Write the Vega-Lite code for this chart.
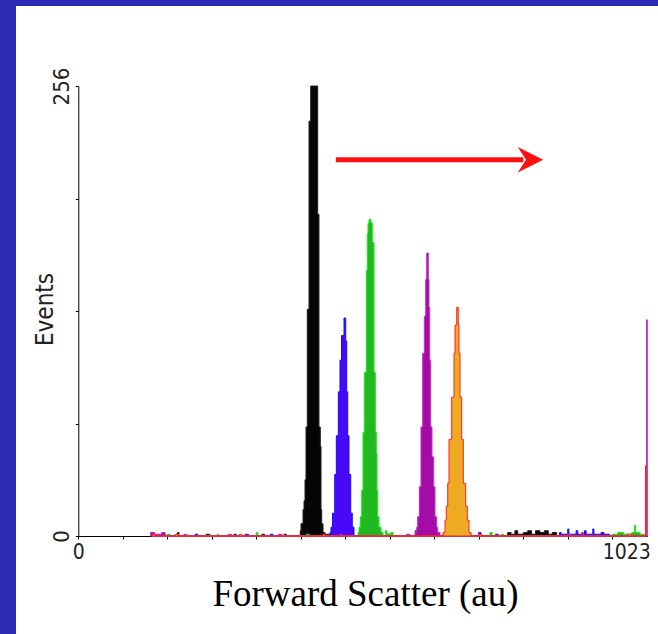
{
  "$schema": "https://vega.github.io/schema/vega-lite/v6.json",
  "width": 642,
  "height": 628,
  "autosize": {"type": "none"},
  "padding": {"left": 16, "top": 6, "right": 0, "bottom": 0},
  "background": "#2b2bb6",
  "config": {"view": {"fill": "#ffffff", "stroke": null}},
  "datasets": {
    "hist": [
      {"s":"black","x":135,"y":1},{"s":"black","x":140,"y":0},{"s":"black","x":178,"y":2},{"s":"black","x":181,"y":0},{"s":"black","x":230,"y":1},{"s":"black","x":236,"y":0},{"s":"black","x":280,"y":1},{"s":"black","x":284,"y":0},{"s":"black","x":330,"y":1},{"s":"black","x":335,"y":0},{"s":"black","x":370,"y":1},{"s":"black","x":374,"y":0},
      {"s":"black","x":399,"y":3},{"s":"black","x":400.4,"y":7},{"s":"black","x":404,"y":15},{"s":"black","x":405.8,"y":20},{"s":"black","x":407.6,"y":32},{"s":"black","x":409.4,"y":62},{"s":"black","x":411.7,"y":129},{"s":"black","x":414.8,"y":236},{"s":"black","x":417.8,"y":256},{"s":"black","x":430.4,"y":183},{"s":"black","x":432.7,"y":62},{"s":"black","x":435.1,"y":51},{"s":"black","x":436.4,"y":15},{"s":"black","x":437.6,"y":7},{"s":"black","x":440,"y":2},{"s":"black","x":443.6,"y":1},{"s":"black","x":452,"y":0},
      {"s":"black","x":606,"y":3},{"s":"black","x":608,"y":1},{"s":"black","x":612,"y":4},{"s":"black","x":614,"y":1},{"s":"black","x":620,"y":2},{"s":"black","x":624,"y":0},{"s":"black","x":632,"y":3},{"s":"black","x":634,"y":1},{"s":"black","x":640,"y":2},{"s":"black","x":645,"y":0},
      {"s":"black","x":772,"y":2},{"s":"black","x":778,"y":1},{"s":"black","x":785,"y":3},{"s":"black","x":790,"y":1},{"s":"black","x":800,"y":2},{"s":"black","x":808,"y":3},{"s":"black","x":815,"y":1},{"s":"black","x":822,"y":3},{"s":"black","x":830,"y":2},{"s":"black","x":838,"y":3},{"s":"black","x":845,"y":1},{"s":"black","x":852,"y":2},{"s":"black","x":860,"y":0},

      {"s":"blue","x":150,"y":1},{"s":"blue","x":156,"y":0},{"s":"blue","x":210,"y":1},{"s":"blue","x":215,"y":0},{"s":"blue","x":300,"y":1},{"s":"blue","x":306,"y":0},{"s":"blue","x":345,"y":1},{"s":"blue","x":350,"y":0},
      {"s":"blue","x":452.5,"y":2},{"s":"blue","x":454.3,"y":5},{"s":"blue","x":457,"y":13},{"s":"blue","x":461,"y":35},{"s":"blue","x":463.9,"y":57},{"s":"blue","x":467.5,"y":82},{"s":"blue","x":470.5,"y":100},{"s":"blue","x":473.2,"y":114},{"s":"blue","x":477.7,"y":124},{"s":"blue","x":480.8,"y":111},{"s":"blue","x":482.6,"y":82},{"s":"blue","x":484.4,"y":57},{"s":"blue","x":486.7,"y":35},{"s":"blue","x":489.8,"y":13},{"s":"blue","x":492.6,"y":5},{"s":"blue","x":495.7,"y":0},
      {"s":"blue","x":555,"y":1},{"s":"blue","x":560,"y":0},{"s":"blue","x":700,"y":1},{"s":"blue","x":706,"y":0},{"s":"blue","x":720,"y":2},{"s":"blue","x":724,"y":0},{"s":"blue","x":750,"y":1},{"s":"blue","x":755,"y":0},{"s":"blue","x":865,"y":2},{"s":"blue","x":868,"y":1},{"s":"blue","x":880,"y":4},{"s":"blue","x":882,"y":1},{"s":"blue","x":895,"y":3},{"s":"blue","x":898,"y":1},{"s":"blue","x":910,"y":3},{"s":"blue","x":913,"y":1},{"s":"blue","x":925,"y":4},{"s":"blue","x":927,"y":1},{"s":"blue","x":940,"y":2},{"s":"blue","x":945,"y":1},{"s":"blue","x":955,"y":0},{"s":"blue","x":985,"y":1},{"s":"blue","x":990,"y":0},

      {"s":"green","x":132,"y":2},{"s":"green","x":136,"y":0},{"s":"green","x":160,"y":1},{"s":"green","x":165,"y":0},{"s":"green","x":250,"y":1},{"s":"green","x":253,"y":0},{"s":"green","x":320,"y":2},{"s":"green","x":323,"y":0},{"s":"green","x":410,"y":1},{"s":"green","x":415,"y":0},
      {"s":"green","x":502.9,"y":2},{"s":"green","x":504.7,"y":5},{"s":"green","x":507,"y":11},{"s":"green","x":509.6,"y":26},{"s":"green","x":511.9,"y":59},{"s":"green","x":514.2,"y":93},{"s":"green","x":517.8,"y":151},{"s":"green","x":519.6,"y":172},{"s":"green","x":520.9,"y":178},{"s":"green","x":522.7,"y":180},{"s":"green","x":526.3,"y":178},{"s":"green","x":528.6,"y":167},{"s":"green","x":531.7,"y":93},{"s":"green","x":534,"y":59},{"s":"green","x":535.8,"y":47},{"s":"green","x":537.1,"y":26},{"s":"green","x":538.3,"y":11},{"s":"green","x":540.7,"y":5},{"s":"green","x":544.3,"y":2},{"s":"green","x":547.9,"y":0},
      {"s":"green","x":552,"y":3},{"s":"green","x":555,"y":1},{"s":"green","x":562,"y":2},{"s":"green","x":566,"y":0},{"s":"green","x":610,"y":2},{"s":"green","x":614,"y":0},{"s":"green","x":740,"y":2},{"s":"green","x":744,"y":0},{"s":"green","x":760,"y":1},{"s":"green","x":765,"y":0},{"s":"green","x":960,"y":1},{"s":"green","x":970,"y":2},{"s":"green","x":980,"y":1},{"s":"green","x":995,"y":2},{"s":"green","x":1000,"y":6},{"s":"green","x":1002,"y":2},{"s":"green","x":1010,"y":1},{"s":"green","x":1018,"y":0},

      {"s":"purple","x":130,"y":2},{"s":"purple","x":137,"y":1},{"s":"purple","x":150,"y":2},{"s":"purple","x":156,"y":0},{"s":"purple","x":190,"y":1},{"s":"purple","x":195,"y":0},{"s":"purple","x":270,"y":1},{"s":"purple","x":276,"y":0},{"s":"purple","x":360,"y":1},{"s":"purple","x":366,"y":0},{"s":"purple","x":470,"y":1},{"s":"purple","x":474,"y":0},{"s":"purple","x":590,"y":1},{"s":"purple","x":596,"y":0},
      {"s":"purple","x":605.4,"y":2},{"s":"purple","x":608.4,"y":5},{"s":"purple","x":610.2,"y":11},{"s":"purple","x":613.1,"y":28},{"s":"purple","x":616.1,"y":62},{"s":"purple","x":619.2,"y":104},{"s":"purple","x":622.1,"y":125},{"s":"purple","x":624.6,"y":146},{"s":"purple","x":626.4,"y":161},{"s":"purple","x":629.3,"y":146},{"s":"purple","x":630.5,"y":130},{"s":"purple","x":631.8,"y":100},{"s":"purple","x":633.6,"y":62},{"s":"purple","x":635.9,"y":45},{"s":"purple","x":639,"y":28},{"s":"purple","x":641.3,"y":11},{"s":"purple","x":644.4,"y":5},{"s":"purple","x":646.2,"y":2},{"s":"purple","x":650.3,"y":0},
      {"s":"purple","x":880,"y":1},{"s":"purple","x":886,"y":0},{"s":"purple","x":905,"y":2},{"s":"purple","x":908,"y":0},{"s":"purple","x":1021.6,"y":123},{"s":"purple","x":1023,"y":123},

      {"s":"orange","x":133,"y":1},{"s":"orange","x":138,"y":0},{"s":"orange","x":175,"y":1},{"s":"orange","x":180,"y":0},{"s":"orange","x":290,"y":1},{"s":"orange","x":294,"y":0},{"s":"orange","x":440,"y":1},{"s":"orange","x":444,"y":0},
      {"s":"orange","x":655.7,"y":2},{"s":"orange","x":659.3,"y":9},{"s":"orange","x":661.6,"y":17},{"s":"orange","x":664.2,"y":30},{"s":"orange","x":666.5,"y":55},{"s":"orange","x":671.3,"y":79},{"s":"orange","x":675.5,"y":104},{"s":"orange","x":677.3,"y":120},{"s":"orange","x":680.3,"y":130},{"s":"orange","x":683.2,"y":120},{"s":"orange","x":684.5,"y":104},{"s":"orange","x":686.3,"y":79},{"s":"orange","x":689.3,"y":55},{"s":"orange","x":692.2,"y":30},{"s":"orange","x":696.5,"y":17},{"s":"orange","x":699.4,"y":9},{"s":"orange","x":702.5,"y":2},{"s":"orange","x":706.1,"y":0},
      {"s":"orange","x":720,"y":1},{"s":"orange","x":725,"y":0},{"s":"orange","x":990,"y":1},{"s":"orange","x":995,"y":0},{"s":"orange","x":1019.8,"y":40},{"s":"orange","x":1021.3,"y":0}
    ],
    "arrow": [{"x": 463, "x2": 800, "y": 214, "hx": 813}]
  },
  "layer": [
    {
      "data": {"name": "hist"},
      "mark": {"type": "area", "interpolate": "step-after", "strokeWidth": 1, "fillOpacity": 1},
      "encoding": {
        "x": {
          "field": "x", "type": "quantitative",
          "scale": {"domain": [0, 1023], "range": [62.3, 631.3], "nice": false, "zero": false},
          "axis": {
            "title": "Forward Scatter (au)",
            "orient": "bottom",
            "offset": -98,
            "values": [0,40,80,120,160,200,240,280,320,360,400,440,480,520,560,600,640,680,720,760,800,840,880,920,960,1000,1023],
            "format": "d",
            "labelExpr": "datum.value == 0 || datum.value == 1023 ? datum.label : ''",
            "labelAlign": {"condition": {"test": "datum.value == 1023", "value": "right"}, "value": "center"},
            "labelOffset": {"condition": {"test": "datum.value == 1023", "value": 3}, "value": 0},
            "labelBaseline": "top",
            "labelPadding": 2,
            "labelFont": "Liberation Sans Narrow, DejaVu Sans Condensed, Liberation Sans",
            "labelFontSize": 21,
            "labelColor": "#222222",
            "labelOverlap": false,
            "labelBound": false,
            "labelFlush": false,
            "tickSize": 3,
            "tickColor": "#000000",
            "tickOpacity": {"condition": {"test": "datum.value == 1023", "value": 0}, "value": 1},
            "domainColor": "#000000",
            "domainWidth": 1,
            "grid": false,
            "titleFont": "Liberation Serif",
            "titleFontSize": 37,
            "titleFontWeight": "normal",
            "titleColor": "#000000",
            "titleBaseline": "alphabetic",
            "titleAlign": "center",
            "titleX": 349,
            "titleY": 69
          }
        },
        "y": {
          "field": "y", "type": "quantitative", "stack": null,
          "scale": {"domain": [0, 256], "range": [530, 80], "nice": false},
          "axis": {
            "title": "Events",
            "orient": "left",
            "offset": -62.3,
            "values": [0, 64, 128, 192, 256],
            "labelExpr": "datum.value == 0 || datum.value == 256 ? datum.label : ''",
            "labelAngle": -90,
            "labelAlign": "center",
            "labelBaseline": "alphabetic",
            "labelPadding": 7,
            "labelFont": "Liberation Sans Narrow, DejaVu Sans Condensed, Liberation Sans",
            "labelFontSize": 22,
            "labelColor": "#222222",
            "labelOverlap": false,
            "labelBound": false,
            "labelFlush": false,
            "tickSize": 3,
            "tickColor": "#000000",
            "domainColor": "#000000",
            "domainWidth": 1,
            "grid": false,
            "titleFont": "Liberation Sans Narrow, DejaVu Sans Condensed, Liberation Sans",
            "titleFontSize": 24,
            "titleFontWeight": "normal",
            "titleColor": "#222222",
            "titleAngle": -90,
            "titleBaseline": "alphabetic",
            "titleAlign": "center",
            "titleX": -25.6,
            "titleY": 303
          }
        },
        "fill": {
          "field": "s", "type": "nominal", "legend": null,
          "scale": {"domain": ["black", "blue", "green", "purple", "orange"], "range": ["#050505", "#4a08f8", "#22b822", "#a40ca8", "#eeaa22"]}
        },
        "stroke": {
          "field": "s", "type": "nominal", "legend": null,
          "scale": {"domain": ["black", "blue", "green", "purple", "orange"], "range": ["#222222", "#1010ff", "#10f010", "#c030c8", "#ff2020"]}
        }
      }
    },
    {
      "data": {"name": "arrow"},
      "mark": {"type": "rule", "color": "#ff1010", "strokeWidth": 5},
      "encoding": {
        "x": {"field": "x", "type": "quantitative"},
        "x2": {"field": "x2"},
        "y": {"field": "y", "type": "quantitative"}
      }
    },
    {
      "data": {"name": "arrow"},
      "mark": {"type": "point", "shape": "M-1,-1L1,0L-1,1L-0.35,0Z", "filled": true, "color": "#ff1010", "opacity": 1, "size": 650, "strokeWidth": 0},
      "encoding": {
        "x": {"field": "hx", "type": "quantitative"},
        "y": {"field": "y", "type": "quantitative"}
      }
    }
  ]
}
